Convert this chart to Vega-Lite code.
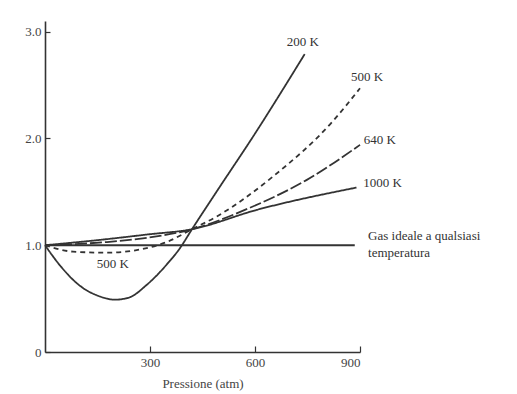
{
  "$schema": "https://vega.github.io/schema/vega-lite/v6.json",
  "width": 315,
  "height": 331,
  "autosize": "none",
  "padding": {"left": 45, "top": 21, "right": 157, "bottom": 42},
  "background": "white",
  "config": {
    "view": {"stroke": null},
    "font": "Liberation Serif",
    "axis": {"grid": false, "domainColor": "#333", "tickColor": "#333", "labelColor": "#444", "titleColor": "#444", "labelFont": "Liberation Serif", "titleFont": "Liberation Serif", "labelFontSize": 13, "titleFontSize": 13, "titleFontWeight": "normal", "domainWidth": 1.6, "tickWidth": 1.2}
  },
  "datasets": {
    "curves": [
      {"series": "ideale", "p": 0, "z": 1.0},
      {"series": "ideale", "p": 885, "z": 1.0},
      {"series": "200 K", "p": 0, "z": 1.0},
      {"series": "200 K", "p": 43, "z": 0.81},
      {"series": "200 K", "p": 100, "z": 0.62},
      {"series": "200 K", "p": 157, "z": 0.52},
      {"series": "200 K", "p": 200, "z": 0.49},
      {"series": "200 K", "p": 240, "z": 0.51},
      {"series": "200 K", "p": 291, "z": 0.63},
      {"series": "200 K", "p": 348, "z": 0.82},
      {"series": "200 K", "p": 385, "z": 0.97},
      {"series": "200 K", "p": 420, "z": 1.15},
      {"series": "200 K", "p": 500, "z": 1.55},
      {"series": "200 K", "p": 593, "z": 2.01},
      {"series": "200 K", "p": 742, "z": 2.79},
      {"series": "500 K", "p": 0, "z": 1.0},
      {"series": "500 K", "p": 80, "z": 0.94},
      {"series": "500 K", "p": 177, "z": 0.93},
      {"series": "500 K", "p": 271, "z": 0.96},
      {"series": "500 K", "p": 348, "z": 1.03},
      {"series": "500 K", "p": 420, "z": 1.15},
      {"series": "500 K", "p": 491, "z": 1.27},
      {"series": "500 K", "p": 650, "z": 1.64},
      {"series": "500 K", "p": 822, "z": 2.16},
      {"series": "500 K", "p": 900, "z": 2.47},
      {"series": "640 K", "p": 0, "z": 1.0},
      {"series": "640 K", "p": 177, "z": 1.03},
      {"series": "640 K", "p": 291, "z": 1.07},
      {"series": "640 K", "p": 420, "z": 1.15},
      {"series": "640 K", "p": 585, "z": 1.35},
      {"series": "640 K", "p": 747, "z": 1.61},
      {"series": "640 K", "p": 900, "z": 1.94},
      {"series": "1000 K", "p": 0, "z": 1.0},
      {"series": "1000 K", "p": 157, "z": 1.05},
      {"series": "1000 K", "p": 291, "z": 1.10},
      {"series": "1000 K", "p": 420, "z": 1.15},
      {"series": "1000 K", "p": 604, "z": 1.33},
      {"series": "1000 K", "p": 890, "z": 1.54}
    ],
    "labels": [
      {"label": "200 K", "p": 691, "z": 2.9},
      {"label": "500 K", "p": 874, "z": 2.58},
      {"label": "640 K", "p": 911, "z": 1.99},
      {"label": "1000 K", "p": 909, "z": 1.58},
      {"label": "Gas ideale a qualsiasi", "p": 923, "z": 1.09},
      {"label": "temperatura", "p": 923, "z": 0.93}
    ],
    "lowlabel": [
      {"label": "500 K", "p": 194, "z": 0.82}
    ]
  },
  "layer": [
    {
      "data": {"name": "curves"},
      "mark": {"type": "line", "interpolate": "monotone", "color": "#333", "strokeWidth": 1.8},
      "encoding": {
        "x": {"field": "p", "type": "quantitative", "scale": {"domain": [0, 900], "nice": false},
          "axis": {"values": [300, 600, 900], "tickSize": -6, "labelPadding": 10, "title": "Pressione (atm)", "titlePadding": 8}},
        "y": {"field": "z", "type": "quantitative", "scale": {"domain": [0, 3.1], "nice": false},
          "axis": {"values": [0, 1, 2, 3], "tickSize": -5, "labelPadding": 9, "title": null,
            "labelExpr": "datum.value == 0 ? '0' : format(datum.value, '.1f')"}},
        "detail": {"field": "series"},
        "strokeDash": {"field": "series", "type": "nominal", "legend": null,
          "scale": {"domain": ["ideale", "200 K", "500 K", "640 K", "1000 K"], "range": [[1, 0], [1, 0], [5, 4], [12, 3], [1, 0]]}}
      }
    },
    {
      "data": {"name": "labels"},
      "mark": {"type": "text", "fontSize": 13, "color": "#333", "align": "left", "baseline": "middle"},
      "encoding": {
        "x": {"field": "p", "type": "quantitative"},
        "y": {"field": "z", "type": "quantitative"},
        "text": {"field": "label"}
      }
    },
    {
      "data": {"name": "lowlabel"},
      "mark": {"type": "text", "fontSize": 13, "color": "#333", "align": "center", "baseline": "middle"},
      "encoding": {
        "x": {"field": "p", "type": "quantitative"},
        "y": {"field": "z", "type": "quantitative"},
        "text": {"field": "label"}
      }
    }
  ]
}
